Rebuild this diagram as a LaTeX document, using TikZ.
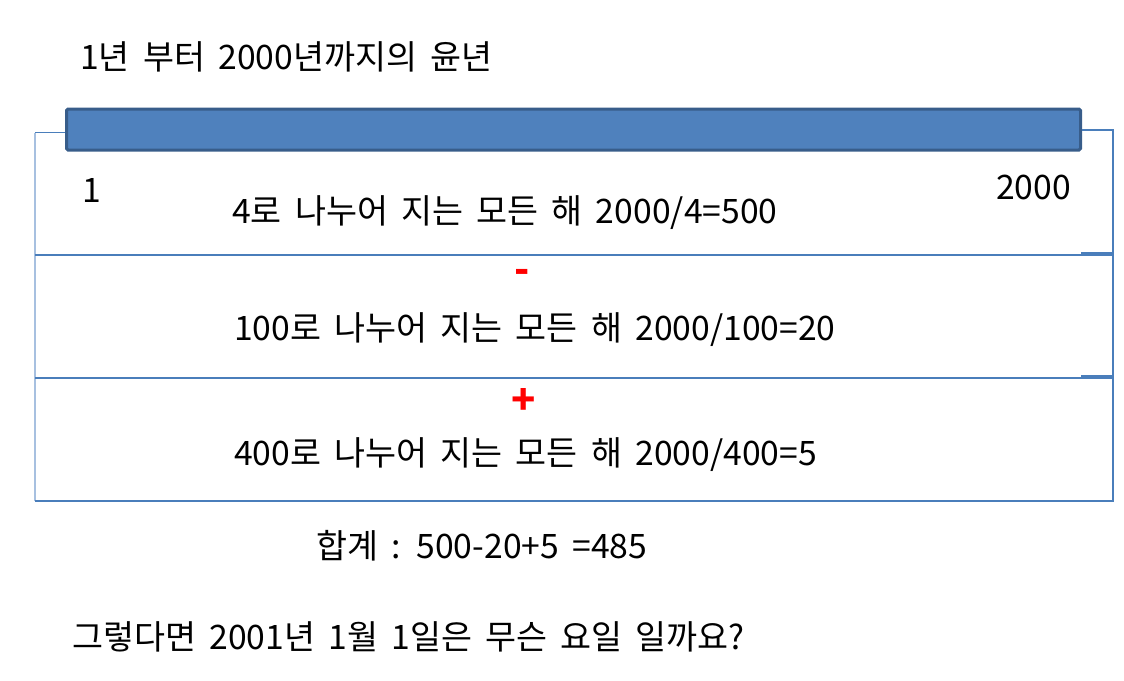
\documentclass[tikz,border=0pt]{standalone}
\usepackage{fontspec}
\setmainfont[WordSpace=1.75]{Noto Sans CJK KR}
\usepackage{tikz}
\usetikzlibrary{positioning}
\definecolor{barfill}{HTML}{4F81BD}
\definecolor{bardraw}{HTML}{385D8A}
\definecolor{boxline}{HTML}{4A7EBB}
\definecolor{boxlight}{HTML}{A7C0E0}
\tikzset{
x=1pt, y=-1pt, % pixel grid of the slide
txt/.style={font=\fontsize{33.7}{36}\selectfont, inner sep=0pt, anchor=west}, % every line of text
sign/.style={text=red, font=\fontsize{40}{40}\selectfont\bfseries, inner sep=0pt}, % the red - and +
bar/.style={fill=barfill, draw=bardraw, line width=3pt, rounded corners=1.5pt, minimum width=1014pt, minimum height=41pt, inner sep=0pt},
rule/.style={draw=boxline, line width=1.3pt},
}
\begin{document}
\begin{tikzpicture}
\useasboundingbox (0,0) rectangle (1124,680);

\node[txt] (title) at (80,57) {1년 부터 2000년까지의 윤년};

\node[bar] (bar) at (573.5,129.5) {};

% outer frame with its three bands
\draw[rule, draw=boxlight] (35,132.5) -- (35,501);
\draw[rule] (35,132.5) -- (bar.west |- 0,132.5);
\draw[rule] (bar.east |- 0,130) -- (1113,130) -- (1113,501) -- (35,501);
\draw[rule] (35,255) -- (1113,255);
\draw[rule] (35,378) -- (1113,378);
\draw[rule] (1081,253) -- (1113,253);
\draw[rule] (1081,376) -- (1113,376);

\node[txt] (first) at (82,190) {1};
\node[txt] (last) at (996,187) {2000};

\node[txt] (four) at (232,213) {4로 나누어 지는 모든 해 2000/4=500};
\node[sign] (minus) at (522,276) {-};
\node[txt] (hundred) at (234,330) {100로 나누어 지는 모든 해 2000/100=20};
\node[sign] (plus) at (524,401) {+};
\node[txt] (fourhundred) at (234,455) {400로 나누어 지는 모든 해 2000/400=5};

\node[txt] (sum) at (316,546) {합계 : 500-20+5 =485};
\node[txt] (question) at (72,637) {그렇다면 2001년 1월 1일은 무슨 요일 일까요?};
\end{tikzpicture}
\end{document}
